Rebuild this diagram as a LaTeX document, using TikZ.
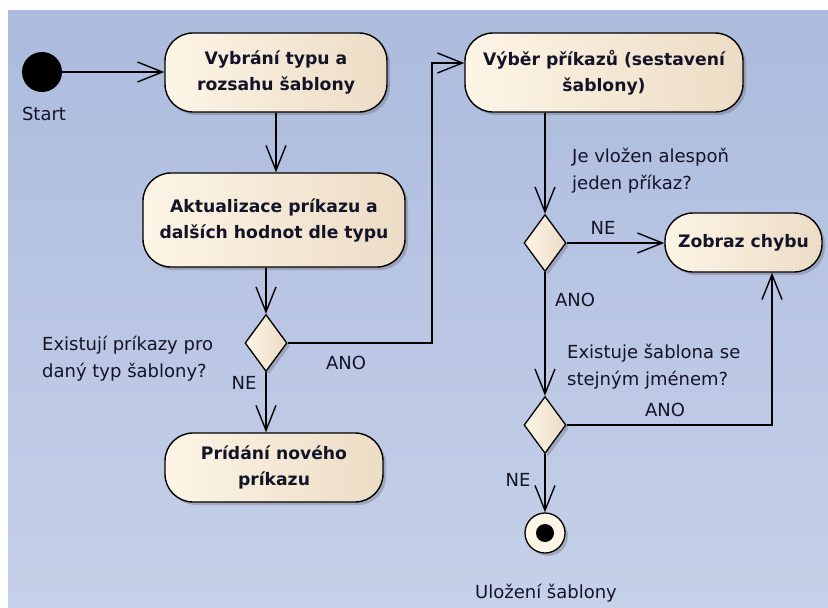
\documentclass[tikz,border=0pt]{standalone}
\usepackage{fontspec}
\setmainfont{DejaVu Sans}
\usetikzlibrary{arrows.meta,shapes.geometric,shadows}
\definecolor{bgtop}{RGB}{172,187,221}
\definecolor{bgbot}{RGB}{198,208,233}
\definecolor{actl}{RGB}{253,245,230}
\definecolor{actr}{RGB}{236,220,197}
\definecolor{txt}{RGB}{20,20,40}
\newcommand{\boldtxt}{\fontsize{17.2}{26}\selectfont\bfseries\color{txt}}
\newcommand{\labeltxt}{\fontsize{18}{26.5}\selectfont\color{txt}}
\tikzset{
  shade box/.style={drop shadow={shadow xshift=3pt,shadow yshift=-3pt,opacity=0.28,fill=black!70}},
  act/.style={draw=black, line width=1.4pt, rounded corners=28pt,
    left color=actl, right color=actr, shade box,
    font=\boldtxt, align=center, inner sep=0pt},
  decision/.style={diamond, draw=black, line width=1.3pt,
    left color=actl, right color=actr, shade box,
    minimum width=42pt, minimum height=57pt, inner sep=0pt},
  initial/.style={circle, fill=black, minimum size=40pt, inner sep=0pt},
  final/.style={circle, draw=black, line width=1.3pt, fill=actl, shade box,
    minimum size=40pt, inner sep=0pt},
  flow/.style={draw=black, line width=1.4pt, -{Straight Barb[length=25pt,width=20pt,line width=1.4pt]}},
  lbl/.style={font=\labeltxt, inner sep=0pt},
}
\begin{document}
\begin{tikzpicture}[x=1pt,y=-1pt]
  % canvas and background
  \useasboundingbox (0,0) rectangle (828,608);
  \fill[white] (0,0) rectangle (828,608);
  \shade[top color=bgtop, bottom color=bgbot] (8,10) rectangle (828,608);

  % nodes
  \node[initial] (start) at (42,72) {};
  \node[lbl] (startl) at (44,114) {Start};

  \node[act, minimum width=222pt, minimum height=79pt] (b1) at (276,72.5)
    {Vybrání typu a\\rozsahu šablony};
  \node[act, minimum width=262pt, minimum height=94pt] (b2) at (274,220)
    {Aktualizace príkazu a\\dalších hodnot dle typu};
  \node[decision] (d1) at (266,343) {};
  \node[act, minimum width=218pt, minimum height=69pt] (b3) at (274,467.5)
    {Prídání nového\\príkazu};

  \node[act, minimum width=278pt, minimum height=79pt] (b4) at (604,72.5)
    {Výběr příkazů (sestavení\\šablony)};
  \node[decision] (d2) at (545,243) {};
  \node[act, minimum width=157pt, minimum height=59pt] (b5) at (743.5,242.5)
    {Zobraz chybu};
  \node[decision] (d3) at (545,425) {};
  \node[final] (end) at (545,533) {};
  \fill[black] (end.center) circle[radius=9pt];

  % junction points of the bent connectors
  \coordinate (j1) at (432,343);
  \coordinate (j2) at (432,63);
  \coordinate (j3) at (772,425);

  % connectors
  \draw[flow] (start) -- (b1.west |- start);
  \draw[flow] (b1.south) -- (b1.south |- b2.north);
  \draw[flow] (d1 |- b2.south) -- (d1.north);
  \draw[flow] (d1.south) -- (d1 |- b3.north);
  \draw[flow] (d1.east) -- (j1) -- (j2) -- (b4.west |- j2);
  \draw[flow] (d2 |- b4.south) -- (d2.north);
  \draw[flow] (d2.east) -- (b5.west |- d2.east);
  \draw[flow] (d2.south) -- (d3.north);
  \draw[flow] (d3.east) -- (j3) -- (j3 |- b5.south);
  \draw[flow] (d3.south) -- (end.north);

  % guard and note labels
  \node[lbl, anchor=west, align=left] (q1) at (42,358.5)
    {Existují príkazy pro\\daný typ šablony?};
  \node[lbl] (ano1) at (346,363) {ANO};
  \node[lbl] (ne1) at (244,383) {NE};
  \node[lbl, anchor=west, align=left] (q2) at (572,170.5)
    {Je vložen alespoň\\jeden příkaz?};
  \node[lbl] (ne2) at (603,228) {NE};
  \node[lbl] (ano2) at (575,300) {ANO};
  \node[lbl, anchor=west, align=left] (q3) at (567,366.5)
    {Existuje šablona se\\stejným jménem?};
  \node[lbl] (ano3) at (665,410) {ANO};
  \node[lbl] (ne3) at (518,480) {NE};
  \node[lbl] (endl) at (546,593) {Uložení šablony};
\end{tikzpicture}
\end{document}
